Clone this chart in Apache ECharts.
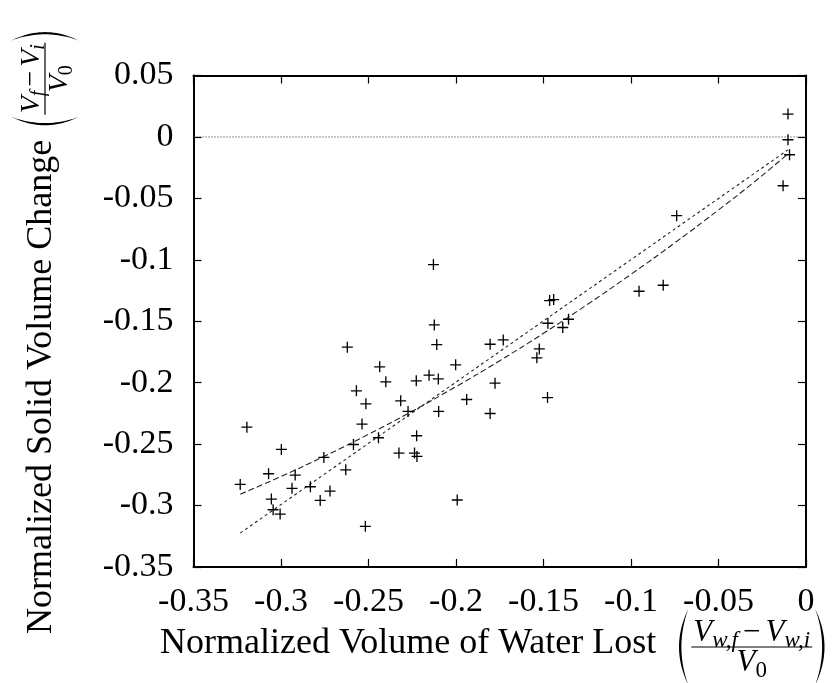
<!DOCTYPE html>
<html>
<head>
<meta charset="utf-8">
<script src="https://cdn.jsdelivr.net/npm/echarts@6/dist/echarts.min.js"></script>
<style>
html,body{margin:0;padding:0;background:#fff;}
#chart{width:840px;height:683px;}
</style>
</head>
<body>
<div id="chart"></div>
<script>
// ---- data ----
const waterLost = [
  -0.0103, -0.0103, -0.0094, -0.0131, -0.0739, -0.0954, -0.0816, -0.2129, -0.1465, -0.1442,
  -0.1475, -0.1357, -0.1390, -0.2124, -0.2110, -0.2621, -0.1805, -0.1730, -0.1524, -0.1538,
  -0.1477, -0.2436, -0.2401, -0.2227, -0.2154, -0.2101, -0.2002, -0.1777, -0.2569, -0.2515,
  -0.2316, -0.1939, -0.2274, -0.2099, -0.1805, -0.2537, -0.2225, -0.2443, -0.3195, -0.2998,
  -0.2586, -0.2326, -0.2237, -0.2223, -0.2755, -0.2630, -0.3071, -0.2919, -0.3233, -0.2937,
  -0.2832, -0.2720, -0.3055, -0.2776, -0.3045, -0.3005, -0.1993, -0.2518
];
const solidChange = [
  0.0186, -0.0023, -0.0145, -0.0397, -0.0641, -0.1256, -0.1207, -0.1039, -0.1332, -0.1324,
  -0.1516, -0.1484, -0.1551, -0.1530, -0.1690, -0.1711, -0.1687, -0.1652, -0.1725, -0.1798,
  -0.2121, -0.1871, -0.1993, -0.1985, -0.1939, -0.1969, -0.1855, -0.2004, -0.2066, -0.2172,
  -0.2148, -0.2137, -0.2234, -0.2234, -0.2251, -0.2337, -0.2432, -0.2448, -0.2362, -0.2543,
  -0.2503, -0.2573, -0.2573, -0.2600, -0.2608, -0.2709, -0.2741, -0.2752, -0.2828, -0.2860,
  -0.2847, -0.2882, -0.2947, -0.2958, -0.3034, -0.3069, -0.2955, -0.3169
];
// linear fit line (dotted), endpoints
const linFitX = [-0.3233, -0.0103];
const linFitY = [-0.3224, -0.0105];
// curved fit (dashed)
const curveFitX = [-0.3233, -0.30, -0.275, -0.25, -0.225, -0.20, -0.175, -0.15, -0.125, -0.10, -0.075, -0.05, -0.03, -0.0103];
const curveFitY = [-0.2907, -0.2763, -0.2597, -0.2420, -0.2232, -0.2032, -0.1821, -0.1598, -0.1364, -0.1118, -0.0862, -0.0594, -0.0371, -0.0138];
// zero reference line
const zeroLineX = [-0.35, 0];
const zeroLineY = [0, 0];
const xTicks = [-0.35, -0.3, -0.25, -0.2, -0.15, -0.1, -0.05, 0];
const yTicks = [0.05, 0, -0.05, -0.1, -0.15, -0.2, -0.25, -0.3, -0.35];
const xTitle = 'Normalized Volume of Water Lost';
const yTitle = 'Normalized Solid Volume Change';

// ---- helpers ----
const FONT = 'Liberation Serif';
const mctx = document.createElement('canvas').getContext('2d');
function fontStr(size, style){ return (style || 'normal') + ' ' + size + 'px "' + FONT + '"'; }
function tw(t, size, style){ mctx.font = fontStr(size, style); return mctx.measureText(t).width; }
function txt(x, y, t, size, style){
  return { type: 'text', x: x, y: y, silent: true,
    style: { text: t, font: fontStr(size, style),
      fill: '#000', textAlign: 'left', textVerticalAlign: 'middle' } };
}
// crescent-shaped parenthesis as polygon
function paren(x, w, h, left){
  const pts = [];
  const N = 24;
  const qb = (p0, c, p1, t) => (1-t)*(1-t)*p0 + 2*(1-t)*t*c + t*t*p1;
  let xe, cOut, cIn;
  if (left) { xe = x + w; cOut = x - 0.55*w; cIn = x - 0.15*w; }
  else { xe = x; cOut = x + 1.55*w; cIn = x + 1.15*w; }
  for (let i = 0; i <= N; i++) { const t = i/N; pts.push([qb(xe, cOut, xe, t), qb(-h/2, 0, h/2, t)]); }
  for (let i = N; i >= 0; i--) { const t = i/N; pts.push([qb(xe, cIn, xe, t), qb(-h/2, 0, h/2, t)]); }
  return { type: 'polygon', silent: true, shape: { points: pts }, style: { fill: '#000' } };
}
function row(parts, x0, yc){
  const els = []; let x = x0;
  parts.forEach(p => {
    x += (p.gap || 0);
    els.push(txt(x, yc + (p.dy || 0), p.t, p.size, p.style));
    x += tw(p.t, p.size, p.style);
    x += (p.gapAfter || 0);
  });
  return { els: els, width: x - x0 };
}
function rowWidth(parts){ return row(parts, 0, 0).width; }
function buildTitle(text, tSize, num, den, opt){
  const els = [];
  els.push(txt(0, opt.textDy, text, tSize));
  let x = tw(text, tSize) + opt.gap1;
  els.push(paren(x, opt.pw, opt.ph, true));
  x += opt.pw + opt.gap2;
  const nw = rowWidth(num), dw = rowWidth(den);
  const fw = Math.max(nw, dw) + opt.barExtra;
  row(num, x + (fw - nw)/2, -opt.numUp).els.forEach(e => els.push(e));
  row(den, x + (fw - dw)/2, opt.denDown).els.forEach(e => els.push(e));
  els.push({ type: 'rect', silent: true, shape: { x: x, y: -0.6, width: fw, height: 1.2 }, style: { fill: '#000' } });
  x += fw + opt.gap2;
  els.push(paren(x, opt.pw, opt.ph, false));
  return els;
}
function mathParts(subA, subB, ns, ss, sdy, g){
  return [
    { t: 'V', size: ns, style: 'italic' },
    { t: subA, size: ss, style: 'italic', dy: sdy },
    { t: '\u2212', size: ns, gap: g, gapAfter: g },
    { t: 'V', size: ns, style: 'italic' },
    { t: subB, size: ss, style: 'italic', dy: sdy }
  ];
}
function denParts(ns, ss, sdy){ return [ { t: 'V', size: ns, style: 'italic' }, { t: '0', size: ss, dy: sdy } ]; }

const xTitleEls = buildTitle(xTitle, 36, mathParts('w,f', 'w,i', 31, 23, 8, 5), denParts(31, 23, 8),
  { textDy: -3, gap1: 20, gap2: 3, pw: 12, ph: 76, barExtra: 4, numUp: 14, denDown: 16 });
const yTitleEls = buildTitle(yTitle, 36, mathParts('f', 'i', 28, 20, 7, 4), denParts(28, 20, 7),
  { textDy: -3, gap1: 12, gap2: 2, pw: 11, ph: 68, barExtra: 3, numUp: 13, denDown: 15 });

const plusSymbol = 'path://M0,4.4 L10,4.4 L10,5.6 L0,5.6 Z M4.4,0 L5.6,0 L5.6,10 L4.4,10 Z';

const chart = echarts.init(document.getElementById('chart'), null, { renderer: 'canvas' });
const axisLbl = { color: '#000', fontFamily: FONT, fontSize: 34 };
const fmt = v => { const r = Math.round(v * 100) / 100; return r === 0 ? '0' : String(r); };
const frameAxis = (pos) => ({
  type: 'value', min: -0.35,
  max: (pos === 'left' || pos === 'right') ? 0.05 : 0, interval: 0.05, position: pos,
  axisLine: { show: true, onZero: false, lineStyle: { color: '#000', width: 2 } },
  axisTick: { show: true, inside: true, length: 8, lineStyle: { color: '#000', width: 1.2 } },
  axisLabel: { show: false }, splitLine: { show: false }
});
const xMain = frameAxis('bottom');
xMain.axisLabel = Object.assign({ show: true, margin: 18, formatter: fmt }, axisLbl);
const yMain = frameAxis('left');
yMain.axisLabel = Object.assign({ show: true, margin: 20, formatter: fmt }, axisLbl);

chart.setOption({
  animation: false,
  backgroundColor: '#fff',
  grid: { left: 193.5, right: 34, top: 75.5, bottom: 116, containLabel: false },
  xAxis: [ xMain, frameAxis('top') ],
  yAxis: [ yMain, frameAxis('right') ],
  series: [
    { type: 'line', data: zeroLineX.map((x, i) => [x, zeroLineY[i]]), showSymbol: false, symbol: 'none',
      lineStyle: { color: '#222', width: 1, type: [1, 2] }, silent: true, z: 1 },
    { type: 'line', data: linFitX.map((x, i) => [x, linFitY[i]]), showSymbol: false, symbol: 'none',
      lineStyle: { color: '#222', width: 1.1, type: [3, 3] }, silent: true, z: 2 },
    { type: 'line', data: curveFitX.map((x, i) => [x, curveFitY[i]]), showSymbol: false, symbol: 'none', smooth: true,
      lineStyle: { color: '#222', width: 1.1, type: [6, 3] }, silent: true, z: 2 },
    { type: 'scatter', data: waterLost.map((x, i) => [x, solidChange[i]]), symbol: plusSymbol, symbolSize: 11,
      itemStyle: { color: '#000', opacity: 1 }, silent: true, z: 3 }
  ],
  graphic: [
    { type: 'group', x: 160, y: 647, children: xTitleEls },
    { type: 'group', x: 45, y: 634, rotation: Math.PI / 2, children: yTitleEls }
  ]
});
</script>
</body>
</html>
